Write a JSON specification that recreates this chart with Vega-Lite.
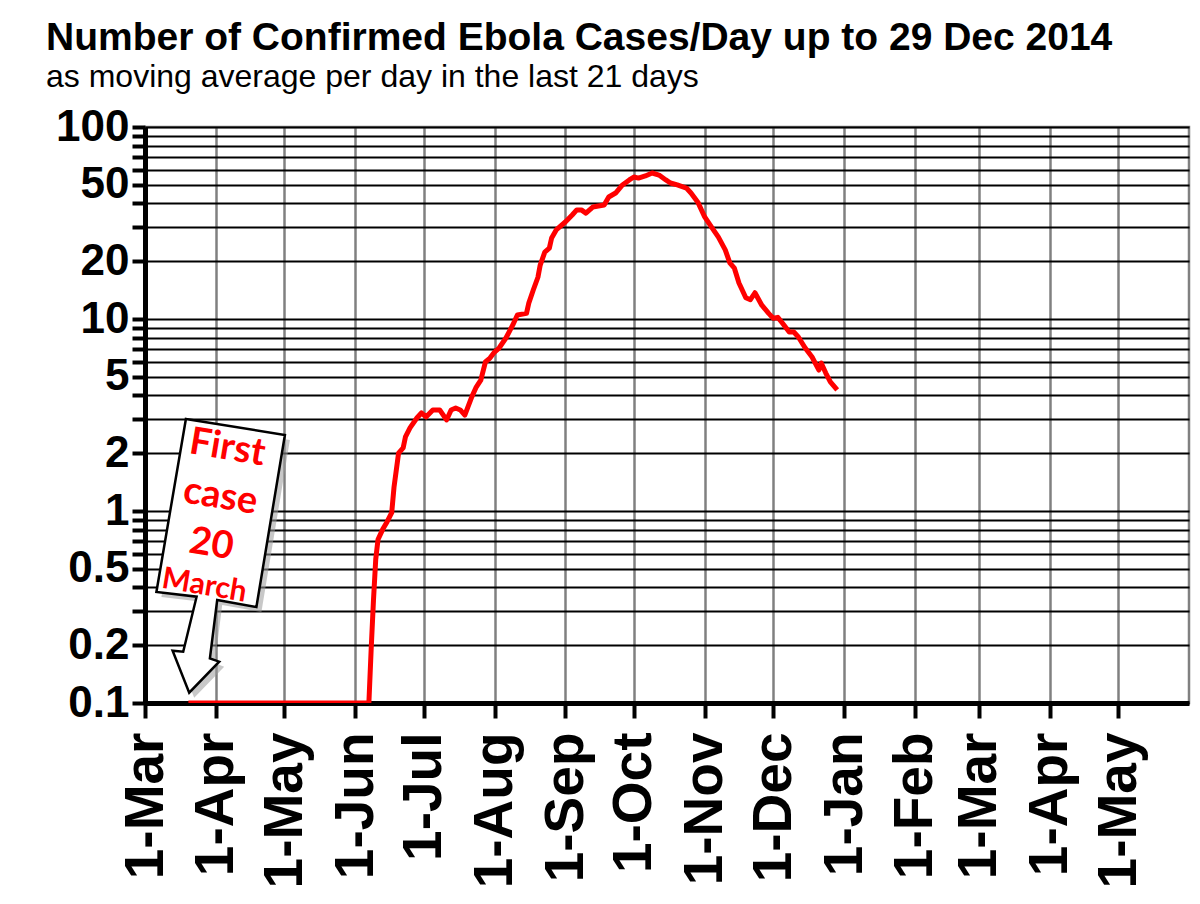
{
  "$schema": "https://vega.github.io/schema/vega-lite/v6.json",
  "width": 1044,
  "height": 576,
  "autosize": {"type": "none"},
  "padding": {"left": 145, "top": 127, "right": 11, "bottom": 201},
  "background": "white",
  "title": {
    "text": "Number of Confirmed Ebola Cases/Day up to 29 Dec 2014",
    "subtitle": "as moving average per day in the last 21 days",
    "anchor": "start",
    "frame": "group",
    "dx": -99,
    "offset": 12,
    "font": "Liberation Sans",
    "fontSize": 39,
    "fontWeight": "bold",
    "color": "black",
    "subtitleFont": "Liberation Sans",
    "subtitleFontSize": 32,
    "subtitleColor": "black",
    "subtitlePadding": 4
  },
  "datasets": {
    "cases": [
      {"date": "2014-03-20", "value": 0.1},
      {"date": "2014-06-07", "value": 0.1},
      {"date": "2014-06-08", "value": 0.19},
      {"date": "2014-06-09", "value": 0.34},
      {"date": "2014-06-10", "value": 0.56},
      {"date": "2014-06-11", "value": 0.71},
      {"date": "2014-06-13", "value": 0.8},
      {"date": "2014-06-15", "value": 0.88},
      {"date": "2014-06-17", "value": 0.98},
      {"date": "2014-06-18", "value": 1.33},
      {"date": "2014-06-20", "value": 2.0},
      {"date": "2014-06-22", "value": 2.13},
      {"date": "2014-06-23", "value": 2.43},
      {"date": "2014-06-25", "value": 2.71},
      {"date": "2014-06-28", "value": 3.05},
      {"date": "2014-06-30", "value": 3.24},
      {"date": "2014-07-02", "value": 3.09},
      {"date": "2014-07-05", "value": 3.36},
      {"date": "2014-07-08", "value": 3.36},
      {"date": "2014-07-11", "value": 2.98},
      {"date": "2014-07-13", "value": 3.36},
      {"date": "2014-07-15", "value": 3.44},
      {"date": "2014-07-17", "value": 3.36},
      {"date": "2014-07-19", "value": 3.16},
      {"date": "2014-07-22", "value": 3.92},
      {"date": "2014-07-24", "value": 4.42},
      {"date": "2014-07-26", "value": 4.81},
      {"date": "2014-07-28", "value": 5.97},
      {"date": "2014-07-30", "value": 6.26},
      {"date": "2014-08-01", "value": 6.73},
      {"date": "2014-08-03", "value": 7.06},
      {"date": "2014-08-06", "value": 7.96},
      {"date": "2014-08-09", "value": 9.31},
      {"date": "2014-08-11", "value": 10.5},
      {"date": "2014-08-15", "value": 10.7},
      {"date": "2014-08-16", "value": 12.1},
      {"date": "2014-08-18", "value": 14.2},
      {"date": "2014-08-20", "value": 16.5},
      {"date": "2014-08-21", "value": 19.1},
      {"date": "2014-08-23", "value": 22.3},
      {"date": "2014-08-25", "value": 23.4},
      {"date": "2014-08-26", "value": 26.4},
      {"date": "2014-08-28", "value": 29.1},
      {"date": "2014-09-01", "value": 32.0},
      {"date": "2014-09-04", "value": 34.8},
      {"date": "2014-09-06", "value": 37.0},
      {"date": "2014-09-08", "value": 37.0},
      {"date": "2014-09-10", "value": 35.6},
      {"date": "2014-09-13", "value": 38.3},
      {"date": "2014-09-18", "value": 39.2},
      {"date": "2014-09-20", "value": 43.2},
      {"date": "2014-09-23", "value": 45.3},
      {"date": "2014-09-26", "value": 49.9},
      {"date": "2014-09-29", "value": 53.0},
      {"date": "2014-10-01", "value": 54.9},
      {"date": "2014-10-03", "value": 54.2},
      {"date": "2014-10-06", "value": 55.6},
      {"date": "2014-10-09", "value": 57.6},
      {"date": "2014-10-12", "value": 56.2},
      {"date": "2014-10-15", "value": 53.0},
      {"date": "2014-10-17", "value": 51.1},
      {"date": "2014-10-20", "value": 49.9},
      {"date": "2014-10-24", "value": 48.1},
      {"date": "2014-10-26", "value": 45.3},
      {"date": "2014-10-29", "value": 40.6},
      {"date": "2014-11-01", "value": 34.0},
      {"date": "2014-11-04", "value": 30.1},
      {"date": "2014-11-07", "value": 26.7},
      {"date": "2014-11-10", "value": 22.9},
      {"date": "2014-11-12", "value": 19.6},
      {"date": "2014-11-14", "value": 18.4},
      {"date": "2014-11-16", "value": 15.4},
      {"date": "2014-11-19", "value": 12.9},
      {"date": "2014-11-21", "value": 12.6},
      {"date": "2014-11-23", "value": 13.7},
      {"date": "2014-11-26", "value": 11.8},
      {"date": "2014-11-29", "value": 10.7},
      {"date": "2014-12-01", "value": 10.1},
      {"date": "2014-12-03", "value": 10.2},
      {"date": "2014-12-05", "value": 9.53},
      {"date": "2014-12-08", "value": 8.55},
      {"date": "2014-12-10", "value": 8.55},
      {"date": "2014-12-12", "value": 8.06},
      {"date": "2014-12-15", "value": 7.06},
      {"date": "2014-12-18", "value": 6.34},
      {"date": "2014-12-21", "value": 5.42},
      {"date": "2014-12-22", "value": 5.9},
      {"date": "2014-12-24", "value": 5.23},
      {"date": "2014-12-26", "value": 4.7},
      {"date": "2014-12-29", "value": 4.27}
    ],
    "callout": [
      {"date": "2014-03-20", "value": 0.1}
    ],
    "notes": [
      {"date": "2014-04-06", "value": 2.12, "label": "First", "part": "big"},
      {"date": "2014-04-03", "value": 1.18, "label": "case", "part": "big"},
      {"date": "2014-03-30", "value": 0.665, "label": "20", "part": "big"},
      {"date": "2014-03-27", "value": 0.408, "label": "March", "part": "small"}
    ]
  },
  "layer": [
    {
      "data": {"name": "cases"},
      "mark": {"type": "line", "color": "#ff0000", "strokeWidth": 5, "strokeJoin": "round", "clip": true},
      "encoding": {
        "x": {
          "field": "date",
          "type": "temporal",
          "scale": {"type": "utc", "domain": [{"year": 2014, "month": 3, "date": 1, "utc": true}, {"year": 2015, "month": 6, "date": 1, "utc": true}]},
          "axis": {
            "title": null,
            "values": [
              {"year": 2014, "month": 3, "date": 1, "utc": true},
              {"year": 2014, "month": 4, "date": 1, "utc": true},
              {"year": 2014, "month": 5, "date": 1, "utc": true},
              {"year": 2014, "month": 6, "date": 1, "utc": true},
              {"year": 2014, "month": 7, "date": 1, "utc": true},
              {"year": 2014, "month": 8, "date": 1, "utc": true},
              {"year": 2014, "month": 9, "date": 1, "utc": true},
              {"year": 2014, "month": 10, "date": 1, "utc": true},
              {"year": 2014, "month": 11, "date": 1, "utc": true},
              {"year": 2014, "month": 12, "date": 1, "utc": true},
              {"year": 2015, "month": 1, "date": 1, "utc": true},
              {"year": 2015, "month": 2, "date": 1, "utc": true},
              {"year": 2015, "month": 3, "date": 1, "utc": true},
              {"year": 2015, "month": 4, "date": 1, "utc": true},
              {"year": 2015, "month": 5, "date": 1, "utc": true}
            ],
            "format": "%-d-%b",
            "labelAngle": 270,
            "labelFont": "Liberation Sans",
            "labelFontWeight": "bold",
            "labelFontSize": 55,
            "labelColor": "black",
            "labelPadding": 14,
            "labelOverlap": false,
            "labelBound": false,
            "labelFlush": false,
            "domainColor": "black",
            "domainWidth": 5,
            "tickColor": "black",
            "tickWidth": 4,
            "tickSize": 15,
            "grid": true,
            "gridColor": "#808080",
            "gridWidth": 2.5
          }
        },
        "y": {
          "field": "value",
          "type": "quantitative",
          "scale": {"type": "log", "domain": [0.1, 100], "nice": false},
          "axis": {
            "title": null,
            "values": [0.1, 0.2, 0.3, 0.4, 0.5, 0.6, 0.7, 0.8, 0.9, 1, 2, 3, 4, 5, 6, 7, 8, 9, 10, 20, 30, 40, 50, 60, 70, 80, 90, 100],
            "labelExpr": "indexof([0.1, 0.2, 0.5, 1, 2, 5, 10, 20, 50, 100], datum.value) >= 0 ? format(datum.value, '~g') : ''",
            "labelFont": "Liberation Sans",
            "labelFontWeight": "bold",
            "labelFontSize": 44,
            "labelColor": "black",
            "labelPadding": 3,
            "labelOverlap": false,
            "labelBound": false,
            "labelFlush": false,
            "domainColor": "black",
            "domainWidth": 5,
            "tickColor": "black",
            "tickWidth": 4,
            "tickSize": 13,
            "grid": true,
            "gridColor": "black",
            "gridWidth": 2
          }
        }
      }
    },
    {
      "data": {"name": "callout"},
      "mark": {
        "type": "point",
        "shape": "M-2.5,-284L96.5,-268L68,-96L28.8,-103L21.5,-44.7L30.8,-41.3L0.8,-10.3L-15.8,-52.3L-5.2,-51.3L8.2,-106.3L-32,-111Z",
        "size": 4,
        "filled": true,
        "fill": "#9a9a9a",
        "fillOpacity": 0.55,
        "strokeWidth": 0,
        "xOffset": 5,
        "yOffset": 5
      },
      "encoding": {
        "x": {"field": "date", "type": "temporal"},
        "y": {"field": "value", "type": "quantitative"}
      }
    },
    {
      "data": {"name": "callout"},
      "mark": {
        "type": "point",
        "shape": "M-2.5,-284L96.5,-268L68,-96L28.8,-103L21.5,-44.7L30.8,-41.3L0.8,-10.3L-15.8,-52.3L-5.2,-51.3L8.2,-106.3L-32,-111Z",
        "size": 4,
        "filled": true,
        "fill": "white",
        "fillOpacity": 1,
        "stroke": "black",
        "strokeWidth": 2.5,
        "opacity": 1
      },
      "encoding": {
        "x": {"field": "date", "type": "temporal"},
        "y": {"field": "value", "type": "quantitative"}
      }
    },
    {
      "data": {"name": "notes"},
      "transform": [{"filter": "datum.part == 'big'"}],
      "mark": {"type": "text", "font": "Lato", "fontWeight": "bold", "fontSize": 38, "color": "#ff0000", "angle": 9.5, "align": "center", "baseline": "middle"},
      "encoding": {
        "x": {"field": "date", "type": "temporal"},
        "y": {"field": "value", "type": "quantitative"},
        "text": {"field": "label"}
      }
    },
    {
      "data": {"name": "notes"},
      "transform": [{"filter": "datum.part == 'small'"}],
      "mark": {"type": "text", "font": "Lato", "fontWeight": "bold", "fontSize": 30, "color": "#ff0000", "angle": 9.5, "align": "center", "baseline": "middle"},
      "encoding": {
        "x": {"field": "date", "type": "temporal"},
        "y": {"field": "value", "type": "quantitative"},
        "text": {"field": "label"}
      }
    }
  ],
  "config": {
    "font": "Liberation Sans",
    "view": {"stroke": "#808080", "strokeWidth": 2.5}
  }
}
